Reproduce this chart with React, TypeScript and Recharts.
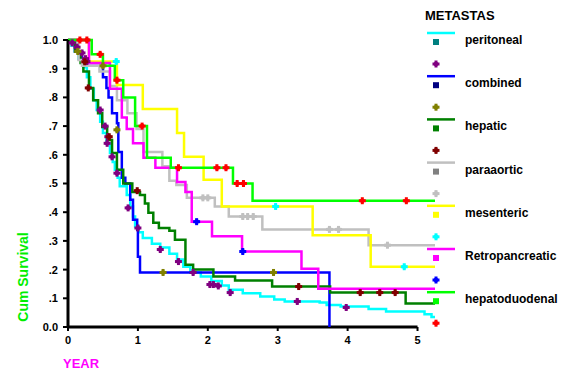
import React from 'react';
import { ComposedChart, Line, Scatter, XAxis, YAxis, ReferenceLine } from 'recharts';

type P = [number, number];

const seriesNames = ['peritoneal', 'combined', 'hepatic', 'paraaortic', 'mesenteric', 'Retropancreatic', 'hepatoduodenal'];
const lineColors = ['#00ffff', '#0000ff', '#008000', '#c0c0c0', '#ffff00', '#ff00ff', '#00ff00'];
const squareColors = ['#008080', '#000080', '#008000', '#808080', '#ffff00', '#ff00ff', '#00ff00'];
const censorColors = ['#800080', '#808000', '#800000', '#c0c0c0', '#00ffff', '#0000ff', '#ff0000'];

const xTicks = [0, 1, 2, 3, 4, 5];
const yTicks = [0, 0.1, 0.2, 0.3, 0.4, 0.5, 0.6, 0.7, 0.8, 0.9, 1.0];
const yTickLabels = ['0.0', '.1', '.2', '.3', '.4', '.5', '.6', '.7', '.8', '.9', '1.0'];

const peritoneal: P[] = [
  [0, 1], [0.05, 0.98], [0.1, 0.96], [0.15, 0.935], [0.22, 0.905], [0.27, 0.87], [0.32, 0.83],
  [0.37, 0.79], [0.41, 0.756], [0.46, 0.715], [0.5, 0.676], [0.55, 0.64], [0.6, 0.606], [0.64, 0.575],
  [0.67, 0.548], [0.71, 0.52], [0.74, 0.49], [0.84, 0.46], [0.89, 0.42], [0.93, 0.385], [0.96, 0.35],
  [1.01, 0.33], [1.07, 0.31], [1.2, 0.29], [1.32, 0.277], [1.45, 0.255], [1.56, 0.235], [1.65, 0.21],
  [1.75, 0.19], [1.9, 0.176], [2.05, 0.16], [2.2, 0.145], [2.3, 0.13], [2.5, 0.118], [2.75, 0.106],
  [2.95, 0.096], [3.1, 0.089], [3.6, 0.085], [3.7, 0.077], [3.9, 0.071], [4.3, 0.063], [4.55, 0.054],
  [5.1, 0.044], [5.2, 0.035], [5.25, 0.035],
];
const peritonealCensor: P[] = [
  [0.06, 0.99], [0.13, 0.975], [0.2, 0.955], [0.25, 0.935], [0.27, 0.925], [0.46, 0.756], [0.53, 0.7],
  [0.57, 0.663], [0.56, 0.64], [0.63, 0.593], [0.7, 0.536], [0.86, 0.415], [1.0, 0.345], [1.32, 0.27],
  [1.58, 0.228], [1.79, 0.19], [2.03, 0.148], [2.08, 0.148], [2.15, 0.143], [2.32, 0.12], [3.28, 0.089],
  [3.98, 0.068],
];

const combined: P[] = [
  [0, 1], [0.1, 0.96], [0.2, 0.92], [0.5, 0.87], [0.55, 0.833], [0.58, 0.8], [0.63, 0.745], [0.7, 0.71],
  [0.72, 0.61], [0.77, 0.52], [0.82, 0.5], [0.89, 0.443], [0.93, 0.374], [0.99, 0.339], [1.0, 0.245],
  [1.03, 0.19], [3.74, 0],
];
const combinedCensor: P[] = [[0.14, 0.96], [0.5, 0.91], [0.7, 0.687], [1.36, 0.19], [2.94, 0.19]];

const hepatic: P[] = [
  [0, 1], [0.1, 0.96], [0.18, 0.92], [0.22, 0.89], [0.3, 0.833], [0.36, 0.79], [0.43, 0.745],
  [0.49, 0.697], [0.56, 0.652], [0.63, 0.606], [0.7, 0.548], [0.79, 0.5], [0.92, 0.47], [1.03, 0.46],
  [1.1, 0.43], [1.15, 0.398], [1.22, 0.363], [1.3, 0.345], [1.45, 0.335], [1.53, 0.304], [1.68, 0.217],
  [1.79, 0.2], [2.08, 0.176], [2.39, 0.162], [2.92, 0.141], [3.75, 0.12], [4.83, 0.082], [5.25, 0.082],
];
const hepaticCensor: P[] = [
  [0.24, 0.924], [0.29, 0.833], [0.59, 0.663], [0.99, 0.475], [3.3, 0.141], [4.18, 0.12], [4.46, 0.12],
  [4.68, 0.12],
];

const paraaortic: P[] = [
  [0, 1], [0.15, 0.93], [0.2, 0.91], [0.45, 0.89], [0.6, 0.84], [0.7, 0.79], [0.85, 0.745], [0.98, 0.69],
  [1.08, 0.61], [1.35, 0.56], [1.45, 0.51], [1.55, 0.495], [1.7, 0.45], [2.1, 0.42], [2.3, 0.385],
  [2.78, 0.34], [4.3, 0.285], [5.25, 0.285],
];
const paraaorticCensor: P[] = [
  [1.93, 0.45], [2.0, 0.45], [2.5, 0.385], [2.57, 0.385], [2.65, 0.385], [3.74, 0.34], [3.87, 0.34],
  [4.57, 0.285],
];

const mesenteric: P[] = [
  [0, 1], [0.3, 0.925], [0.7, 0.843], [1.07, 0.76], [1.56, 0.676], [1.66, 0.593], [1.94, 0.513],
  [2.2, 0.42], [3.5, 0.32], [4.33, 0.21], [5.25, 0.21],
];
const mesentericCensor: P[] = [[0.69, 0.925], [2.97, 0.42], [4.81, 0.21]];

const retropancreatic: P[] = [
  [0, 1], [0.3, 0.92], [0.6, 0.83], [0.77, 0.73], [0.84, 0.69], [0.93, 0.64], [1.08, 0.59], [1.25, 0.555],
  [1.56, 0.505], [1.68, 0.47], [1.77, 0.367], [2.06, 0.316], [2.49, 0.263], [3.34, 0.203], [3.58, 0.133],
  [5.25, 0.133],
];
const retropancreaticCensor: P[] = [[1.84, 0.367], [2.5, 0.263]];

const hepatoduodenal: P[] = [
  [0, 1], [0.34, 0.95], [0.5, 0.91], [0.67, 0.86], [0.79, 0.8], [0.96, 0.7], [1.13, 0.59], [1.47, 0.555],
  [2.36, 0.5], [2.64, 0.44], [5.25, 0.44],
];
const hepatoduodenalCensor: P[] = [
  [0.17, 1.0], [0.27, 1.0], [0.46, 0.95], [0.7, 0.86], [1.06, 0.7], [1.58, 0.555], [2.13, 0.555],
  [2.26, 0.555], [2.42, 0.5], [2.51, 0.5], [4.21, 0.44], [4.84, 0.44],
];

const curves = [peritoneal, combined, hepatic, paraaortic, mesenteric, retropancreatic, hepatoduodenal];
const censors = [
  peritonealCensor, combinedCensor, hepaticCensor, paraaorticCensor, mesentericCensor,
  retropancreaticCensor, hepatoduodenalCensor,
];

const toRows = (pts: P[]) => pts.map(([t, s]) => ({ t, s }));
const FONT = 'Arial, "Liberation Sans", sans-serif';

const Plus = ({ cx, cy, fill }: { cx: number; cy: number; fill: string }) => (
  <g>
    <rect x={cx - 3.5} y={cy - 1.5} width={7} height={3} fill={fill} />
    <rect x={cx - 1.5} y={cy - 3.5} width={3} height={7} fill={fill} />
    <circle cx={cx} cy={cy} r={2.3} fill={fill} />
  </g>
);

const makeShape = (color: string) => (props: any) => <Plus cx={props.cx} cy={props.cy} fill={color} />;

export default function App() {
  return (
    <div style={{ position: 'absolute', left: 0, top: 0, width: 571, height: 382, background: '#fff', fontFamily: FONT }}>
      <ComposedChart width={571} height={382} margin={{ top: 40, right: 136, bottom: 25, left: 0 }}>
        <XAxis
          dataKey="t"
          type="number"
          domain={[0, 5.25]}
          ticks={xTicks}
          allowDataOverflow
          axisLine={false}
          tickLine={{ stroke: '#000', strokeWidth: 2 }}
          tickSize={4}
          tickMargin={5}
          height={30}
          tick={{ fill: '#000', fontSize: 11, fontWeight: 'bold', fontFamily: FONT }}
          label={{
            content: (p: any) => (
              <text x={p.viewBox.x - 5} y={p.viewBox.y + 41} fill="#ff00ff" fontSize={13} fontWeight="bold" fontFamily={FONT}>
                YEAR
              </text>
            ),
          }}
        />
        <YAxis
          dataKey="s"
          type="number"
          domain={[0, 1]}
          ticks={yTicks}
          width={68}
          axisLine={{ stroke: '#000', strokeWidth: 3 }}
          tickLine={{ stroke: '#000', strokeWidth: 2 }}
          tickSize={5}
          tickMargin={5}
          tickFormatter={(v: number) => yTickLabels[Math.round(v * 10)]}
          tick={{ fill: '#000', fontSize: 11, fontWeight: 'bold', fontFamily: FONT }}
          label={{
            content: () => (
              <text
                x={23}
                y={277}
                transform="rotate(-90, 23, 277)"
                textAnchor="middle"
                dominantBaseline="central"
                fill="#00ee00"
                fontSize={14}
                fontWeight="bold"
                fontFamily={FONT}
              >
                Cum Survival
              </text>
            ),
          }}
        />
        <ReferenceLine segment={[{ x: 0, y: 0 }, { x: 5, y: 0 }]} stroke="#000" strokeWidth={3} />
        {curves.map((c, i) => (
          <Line
            key={seriesNames[i]}
            data={toRows(c)}
            dataKey="s"
            type="stepAfter"
            stroke={lineColors[i]}
            strokeWidth={2.5}
            dot={false}
            activeDot={false}
            isAnimationActive={false}
          />
        ))}
        {censors.map((c, i) => (
          <Scatter
            key={'c' + seriesNames[i]}
            data={toRows(c)}
            dataKey="s"
            fill={censorColors[i]}
            shape={makeShape(censorColors[i])}
            isAnimationActive={false}
          />
        ))}
      </ComposedChart>
      <svg width={571} height={382} style={{ position: 'absolute', left: 0, top: 0, pointerEvents: 'none' }}>
        <text x={425} y={20} fontSize={13} fontWeight="bold" fill="#000" fontFamily={FONT}>
          METASTAS
        </text>
        {seriesNames.map((n, i) => {
          const y0 = 33 + i * 43.2;
          return (
            <g key={n}>
              <line x1={427} x2={455} y1={y0} y2={y0} stroke={lineColors[i]} strokeWidth={2.5} />
              <rect x={433} y={y0 + 6} width={6} height={6} fill={squareColors[i]} />
              <text x={465} y={y0 + 11} fontSize={12} fontWeight="bold" fill="#000" fontFamily={FONT}>
                {n}
              </text>
              <Plus cx={436} cy={y0 + 31} fill={censorColors[i]} />
            </g>
          );
        })}
      </svg>
    </div>
  );
}
